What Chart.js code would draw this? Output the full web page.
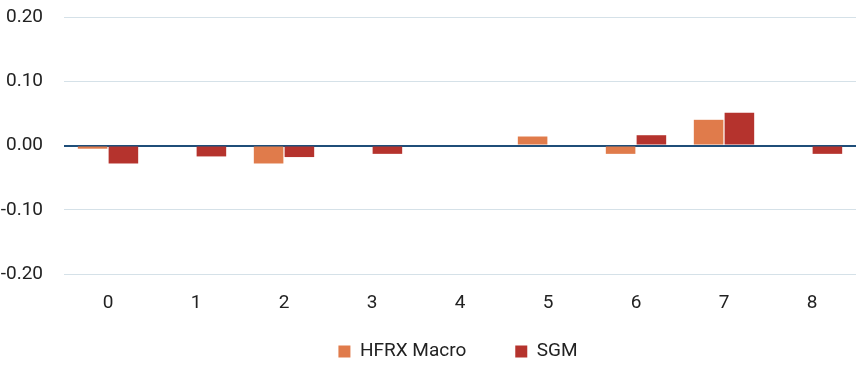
<!DOCTYPE html>
<html>
<head>
<meta charset="utf-8">
<script src="https://cdn.jsdelivr.net/npm/chart.js@4/dist/chart.umd.min.js"></script>
<style>
  html, body { margin: 0; padding: 0; background: #fff; }
  #wrap { width: 863px; height: 368px; }
</style>
</head>
<body>
<div id="wrap"><canvas id="chart"></canvas></div>
<script>
// categories and series
const categories = ['0', '1', '2', '3', '4', '5', '6', '7', '8'];
const hfrxMacro = [-0.005, 0, -0.028, 0, 0, 0.014, -0.013, 0.040, 0];
const sgm = [-0.028, -0.017, -0.018, -0.013, 0, 0, 0.016, 0.051, -0.013];
const yTicks = [-0.2, -0.1, 0, 0.1, 0.2];

// legend sits a bit right of centre and close under the axis labels
const legendNudge = {
    id: 'legendNudge',
    afterLayout(chart) {
        const lg = chart.legend;
        lg.left += 30; lg.right += 30;
        lg.top -= 17;
    }
};

const ctx = document.getElementById('chart').getContext('2d');
new Chart(ctx, {
    type: 'bar',
    data: {
        labels: categories,
        datasets: [
            { label: 'HFRX Macro', data: hfrxMacro, backgroundColor: '#E07B4B' },
            { label: 'SGM', data: sgm, backgroundColor: '#B5332D' }
        ]
    },
    plugins: [legendNudge],
    options: {
        responsive: true,
        maintainAspectRatio: false,
        animation: false,
        categoryPercentage: 0.7,
        barPercentage: 0.96,
        layout: { padding: { top: 0, right: 7, left: 0, bottom: 0 } },
        plugins: {
            legend: {
                position: 'bottom',
                maxHeight: 58,
                labels: {
                    boxWidth: 12,
                    boxHeight: 12,
                    padding: 49,
                    color: '#222',
                    font: { family: 'Roboto', size: 19 }
                }
            },
            tooltip: { enabled: false }
        },
        scales: {
            x: {
                grid: { display: false },
                border: { display: false },
                afterFit: axis => { axis.height = 36; },
                ticks: { color: '#222', padding: 10, font: { family: 'Roboto', size: 19 } }
            },
            y: {
                min: yTicks[0],
                max: yTicks[yTicks.length - 1],
                afterBuildTicks: axis => { axis.ticks = yTicks.map(v => ({ value: v })); },
                afterFit: axis => {
                    axis.width = 64;
                    axis.paddingTop = 17;
                    axis.paddingBottom = 11;
                },
                border: { display: false },
                grid: {
                    drawTicks: false,
                    color: c => c.tick.value === 0 ? '#1F4E79' : '#D5E1E8',
                    lineWidth: c => c.tick.value === 0 ? 2 : 1
                },
                ticks: {
                    color: '#222',
                    padding: 21,
                    font: { family: 'Roboto', size: 19 },
                    callback: v => v.toFixed(2)
                }
            }
        }
    }
});
</script>
</body>
</html>
